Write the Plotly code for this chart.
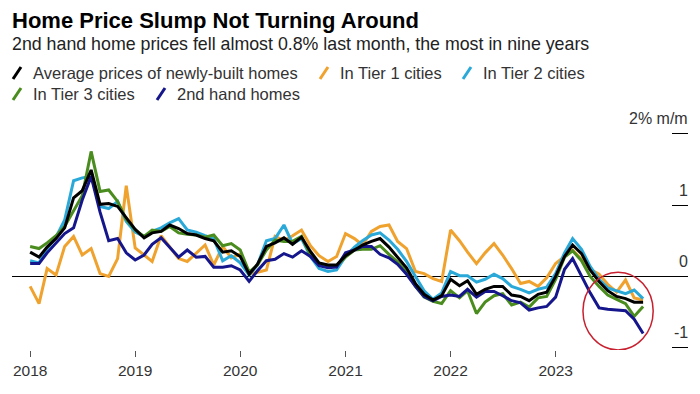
import pandas as pd
import plotly.graph_objects as go

months = pd.date_range("2018-01-01", periods=71, freq="MS")

avg_new = [0.34, 0.27, 0.41, 0.53, 0.68, 1.10, 1.20, 1.49, 1.01, 1.02, 0.98, 0.83,
           0.66, 0.54, 0.61, 0.63, 0.72, 0.67, 0.60, 0.58, 0.53, 0.50, 0.34, 0.36,
           0.28, 0.03, 0.17, 0.42, 0.47, 0.54, 0.45, 0.55, 0.35, 0.19, 0.16, 0.16,
           0.29, 0.37, 0.44, 0.49, 0.53, 0.41, 0.27, 0.12, -0.10, -0.25, -0.33, -0.27,
           -0.04, -0.13, -0.06, -0.25, -0.18, -0.14, -0.14, -0.26, -0.28, -0.34, -0.25, -0.22,
           0.00, 0.28, 0.44, 0.32, 0.09, -0.07, -0.20, -0.28, -0.31, -0.36, -0.36]

tier1 = [-0.14, -0.38, 0.11, 0.02, 0.42, 0.56, 0.30, 0.39, 0.04, 0.00, 0.25, 1.27,
         0.40, 0.30, 0.21, 0.57, 0.42, 0.25, 0.21, 0.32, 0.44, 0.16, 0.42, 0.26,
         0.31, 0.03, 0.06, 0.09, 0.56, 0.50, 0.57, 0.65, 0.43, 0.29, 0.21, 0.28,
         0.60, 0.53, 0.44, 0.63, 0.70, 0.72, 0.49, 0.39, 0.07, 0.04, -0.03, -0.07,
         0.65, 0.50, 0.34, 0.18, 0.33, 0.46, 0.30, 0.11, -0.10, -0.07, -0.14, -0.02,
         0.18, 0.28, 0.37, 0.24, 0.10, 0.03, -0.11, -0.22, -0.05, -0.30, -0.33]

tier2 = [0.22, 0.19, 0.39, 0.55, 0.79, 1.34, 1.38, 1.40, 0.98, 0.95, 1.05, 0.77,
         0.62, 0.56, 0.63, 0.68, 0.75, 0.81, 0.65, 0.62, 0.57, 0.53, 0.22, 0.29,
         0.19, 0.02, 0.16, 0.50, 0.53, 0.72, 0.46, 0.53, 0.28, 0.11, 0.07, 0.09,
         0.28, 0.41, 0.50, 0.58, 0.61, 0.51, 0.38, 0.21, 0.00, -0.20, -0.32, -0.23,
         0.07, 0.01, 0.01, -0.08, -0.04, 0.03, -0.03, -0.14, -0.18, -0.23, -0.18, -0.15,
         0.04, 0.33, 0.53, 0.38, 0.14, -0.04, -0.16, -0.20, -0.24, -0.19, -0.31]

tier3 = [0.42, 0.39, 0.47, 0.57, 0.70, 0.92, 1.13, 1.75, 1.19, 1.21, 1.05, 0.80,
         0.65, 0.56, 0.65, 0.63, 0.70, 0.61, 0.59, 0.58, 0.55, 0.58, 0.43, 0.46,
         0.37, 0.06, 0.16, 0.37, 0.51, 0.49, 0.49, 0.56, 0.30, 0.17, 0.15, 0.15,
         0.27, 0.37, 0.38, 0.38, 0.43, 0.31, 0.20, 0.07, -0.14, -0.29, -0.35, -0.38,
         -0.20, -0.30, -0.20, -0.52, -0.36, -0.27, -0.24, -0.40, -0.36, -0.43, -0.30, -0.28,
         -0.04, 0.27, 0.36, 0.22, 0.00, -0.14, -0.26, -0.32, -0.38, -0.56, -0.42]

second_hand = [0.18, 0.18, 0.33, 0.46, 0.60, 0.68, 1.07, 1.40, 0.90, 0.50, 0.53, 0.33,
               0.23, 0.30, 0.45, 0.54, 0.40, 0.27, 0.37, 0.27, 0.28, 0.13, 0.13, 0.15,
               0.09, -0.07, 0.08, 0.22, 0.24, 0.32, 0.27, 0.36, 0.28, 0.15, 0.12, 0.13,
               0.33, 0.37, 0.42, 0.42, 0.31, 0.26, 0.17, 0.03, -0.14, -0.28, -0.34, -0.28,
               -0.26, -0.28, -0.18, -0.29, -0.21, -0.21, -0.27, -0.34, -0.37, -0.47, -0.44, -0.42,
               -0.29, 0.10, 0.25, 0.01, -0.23, -0.44, -0.46, -0.47, -0.48, -0.60, -0.80]

series_names = ["Average prices of newly-built homes", "In Tier 1 cities", "In Tier 2 cities",
                "In Tier 3 cities", "2nd hand homes"]
series_values = [avg_new, tier1, tier2, tier3, second_hand]
series_colors = ["#000000", "#f0a22e", "#2aa9d9", "#4a8c1e", "#16168c"]

y_tick_vals = [-1, 0, 1, 2]
y_tick_text = ["-1", "0", "1", "2% m/m"]
x_tick_years = ["2018", "2019", "2020", "2021", "2022", "2023"]

W, H = 700, 394
ML, MR, MT, MB = 12, 12, 130, 44
PW, PH = W - ML - MR, H - MT - MB

def px_x(p):
    return (p - ML) / PW

def px_y(p):
    return (H - MB - p) / PH

FONT = "Liberation Sans"

fig = go.Figure()
draw_order = [1, 2, 3, 4, 0]
for k in draw_order:
    fig.add_trace(go.Scatter(
        x=months, y=series_values[k], mode="lines", name=series_names[k],
        line=dict(color=series_colors[k], width=3), showlegend=False,
        hoverinfo="skip"))

# custom legend (slash markers + text)
legend_items = [
    (0, 13, 73), (1, 320, 73), (2, 463, 73),
    (3, 13, 94), (4, 157, 94),
]
shapes = []
annotations = []
for k, lx, ly in legend_items:
    shapes.append(dict(type="line", xref="paper", yref="paper",
                       x0=px_x(lx), y0=px_y(ly + 6), x1=px_x(lx + 8), y1=px_y(ly - 6),
                       line=dict(color=series_colors[k], width=3)))
    annotations.append(dict(text=series_names[k], xref="paper", yref="paper",
                            x=px_x(lx + 18), y=px_y(ly), xanchor="left", yanchor="middle",
                            showarrow=False, font=dict(family=FONT, size=16.5, color="#333333")))

annotations.append(dict(text="<b>Home Price Slump Not Turning Around</b>", xref="paper", yref="paper",
                        x=px_x(10), y=px_y(20), xanchor="left", yanchor="middle", showarrow=False,
                        font=dict(family=FONT, size=22, color="#000000")))
annotations.append(dict(text="2nd hand home prices fell almost 0.8% last month, the most in nine years",
                        xref="paper", yref="paper", x=px_x(10), y=px_y(44), xanchor="left",
                        yanchor="middle", showarrow=False,
                        font=dict(family=FONT, size=17.8, color="#222222")))

# y tick labels above their tick dashes
for v, t in zip(y_tick_vals, y_tick_text):
    annotations.append(dict(text=t, xref="paper", yref="y", x=1, y=v,
                            xanchor="right", yanchor="middle", yshift=15, xshift=2,
                            showarrow=False, font=dict(family=FONT, size=16, color="#333333")))

# highlight ellipse
shapes.append(dict(type="circle", xref="x", yref="y",
                   x0="2023-04-06", x1="2023-12-06", y0=-1.03, y1=0.06,
                   line=dict(color="#c8202f", width=1.5)))

fig.update_layout(
    width=W, height=H,
    margin=dict(l=ML, r=MR, t=MT, b=MB),
    paper_bgcolor="white", plot_bgcolor="white",
    showlegend=False,
    shapes=shapes, annotations=annotations,
    xaxis=dict(type="date", range=["2017-10-30", "2024-04-05"],
               tickvals=[y + "-01-01" for y in x_tick_years], ticktext=x_tick_years,
               ticks="outside", ticklen=6, tickcolor="#555555", tickwidth=1,
               showgrid=False, showline=False, zeroline=False,
               tickfont=dict(family=FONT, size=15.5, color="#333333")),
    yaxis=dict(side="right", range=[-1.03, 2.05],
               tickvals=y_tick_vals, showticklabels=False,
               ticks="inside", ticklen=16, tickcolor="#000000", tickwidth=1,
               showgrid=False, showline=False,
               zeroline=True, zerolinecolor="#000000", zerolinewidth=1),
)

fig.write_html("out.html", config={"displayModeBar": False},
               post_script="document.body.style.margin='0';")
